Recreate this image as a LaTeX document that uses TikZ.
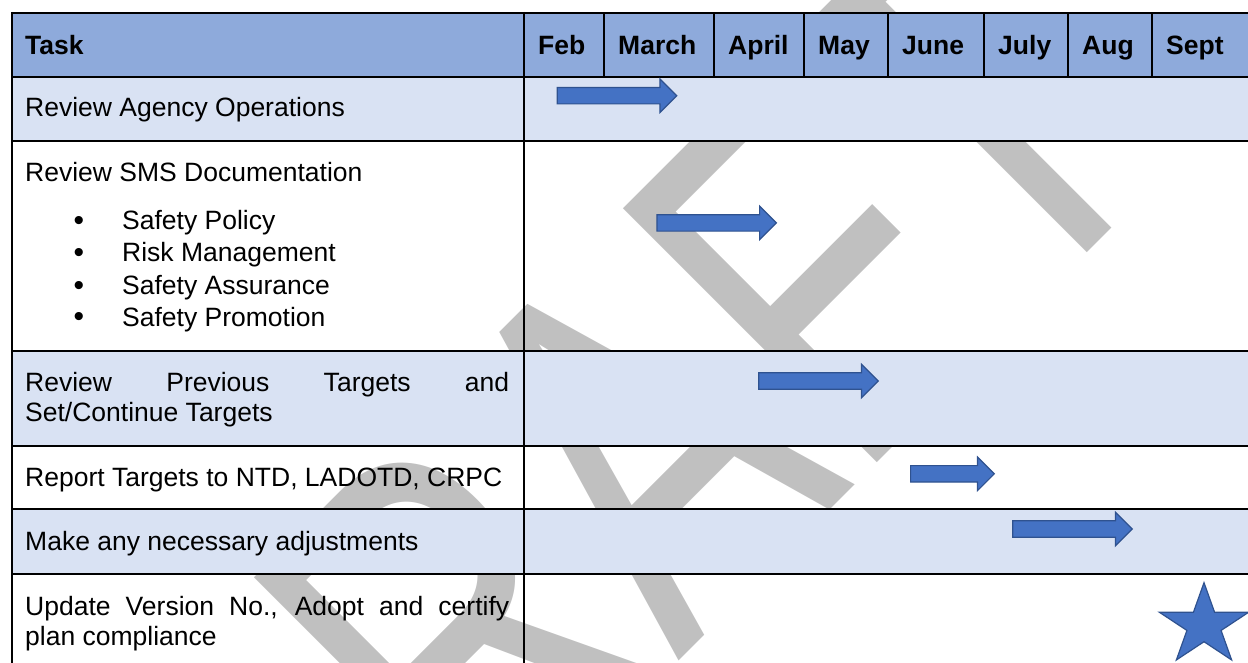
\documentclass[tikz,border=0pt]{standalone}
\usepackage{fontspec}
\setmainfont{Liberation Sans}
\newfontfamily\wmfont[Kerning=Off]{Liberation Sans}
\usetikzlibrary{shapes.arrows}

\definecolor{headblue}{HTML}{8EAADB}
\definecolor{rowblue}{HTML}{D9E2F3}
\definecolor{barblue}{HTML}{4472C4}
\definecolor{bardark}{HTML}{2F528F}
\definecolor{wmgray}{HTML}{C0C0C0}

\newcommand{\cellsize}{\fontsize{26.5bp}{30bp}\selectfont}

\begin{document}
\begin{tikzpicture}[x=1bp,y=-1bp,
                    cell/.style={anchor=base west,inner sep=0pt,font=\cellsize},
                    headcell/.style={cell,font=\cellsize\bfseries},
                    dot/.style={anchor=base,inner sep=0pt,font=\fontsize{30bp}{30bp}\selectfont},
                    grid/.style={line width=2bp},
                    ganttbar/.style={single arrow,draw=bardark,fill=barblue,line width=1.2bp,
                                     anchor=tail,inner sep=0pt,inner ysep=7.6bp,
                                     single arrow head extend=8.6bp,minimum height=#1}]

  \useasboundingbox (0,0) rectangle (1248,663);
  \clip (0,0) rectangle (1248,663);

  % watermark behind the table
  \node[anchor=base west,rotate=45,inner sep=0pt,text=wmgray] (wm) at (294.8,1045.2)
       {\scalebox{0.72}[1]{\fontsize{522bp}{522bp}\wmfont DRAFT}};

  % shading: header and every other row
  \fill[headblue] (12,13) rectangle (1260,77);
  \fill[rowblue]  (12,77) rectangle (1260,141);
  \fill[rowblue]  (12,351) rectangle (1260,446);
  \fill[rowblue]  (12,509) rectangle (1260,574);

  % rules
  \foreach \y in {13,77,141,351,446,509,574}
    \draw[grid] (11,\y) -- (1260,\y);
  \draw[grid] (12,12) -- (12,700);
  \draw[grid] (524,12) -- (524,700);
  \foreach \x in {604,714,804,888,984,1068,1152}
    \draw[grid] (\x,13) -- (\x,77);

  % header
  \node[headcell] (task) at (25,55) {Task};
  \foreach \x/\m in {538/Feb,618/March,728/April,818/May,902/June,998/July,1082/Aug,1166/Sept}
    \node[headcell] (m-\m) at (\x,55) {\m};

  % tasks
  \node[cell] (r1)  at (25,116.7) {Review Agency Operations};
  \node[cell] (r2)  at (25,181.7) {Review SMS Documentation};
  \foreach \y/\t [count=\i] in {230/Safety Policy,261.7/Risk Management,
                                294.3/Safety Assurance,326/Safety Promotion}{
    \node[dot]  (b\i)  at (79,\y+0.8) {•};
    \node[cell] (r2-\i) at (122,\y) {\t};
  }
  \node[cell] (r3a) at (25,391.7) {\makebox[484bp][s]{Review Previous Targets and}};
  \node[cell] (r3b) at (25,421.7) {Set/Continue Targets};
  \node[cell] (r4)  at (25,486.7) {Report Targets to NTD, LADOTD, CRPC};
  \node[cell] (r5)  at (25,550.7) {Make any necessary adjustments};
  \node[cell] (r6a) at (25,615) {\makebox[484bp][s]{Update Version No., Adopt and certify}};
  \node[cell] (r6b) at (25,645) {plan compliance};

  % bars
  \node[ganttbar=119.5bp] (bar1) at (556.6,95.7) {};
  \node[ganttbar=119.5bp] (bar2) at (656.3,222.9) {};
  \node[ganttbar=119.5bp] (bar3) at (758.2,381) {};
  \node[ganttbar=83.7bp]  (bar4) at (910,473.8) {};
  \node[ganttbar=119.5bp] (bar5) at (1012.1,529) {};

  % milestone
  \begin{scope}[shift={(1204,625.4)},x=47bp,y=42.7bp]
    \filldraw[draw=bardark,fill=barblue,line width=1.2bp]
      (90:1) -- (126:.382) -- (162:1) -- (198:.382) -- (234:1) -- (270:.382)
      -- (306:1) -- (342:.382) -- (18:1) -- (54:.382) -- cycle;
  \end{scope}
\end{tikzpicture}
\end{document}
